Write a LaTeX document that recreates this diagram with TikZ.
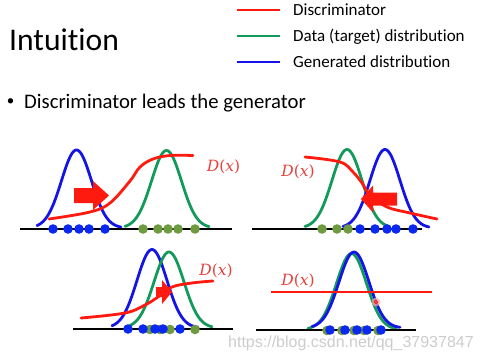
\documentclass[tikz,border=0pt]{standalone}
\usepackage{fontspec}
\setmainfont{Carlito}[Ligatures=NoCommon]
\newfontfamily\markfont{Liberation Sans}
\newfontfamily\dxfont{DejaVu Serif}
\usetikzlibrary{positioning}
\definecolor{discred}{HTML}{FF1A10}
\definecolor{datagreen}{HTML}{139A5A}
\definecolor{genblue}{HTML}{1414E6}
\definecolor{dotgreen}{HTML}{6E9A40}
\definecolor{dotblue}{HTML}{0A28F0}
\definecolor{labelred}{HTML}{E5403A}
% bell curve: colour, mean, from, to, peak y, base y
\newcommand{\bell}[6]{%
  \draw[curve, #1] plot[domain=#3:#4, samples=70, smooth]
    (\x, {#6-(#6-#5)*exp(-(((\x-#2)/15)^2)/2)});%
}
\newcommand{\dx}{{\itshape D}({\itshape x})}

\begin{document}
\begin{tikzpicture}[x=1pt, y=-1pt,
    curve/.style={line width=2.8pt, line cap=round, line join=round},
    axis/.style={line width=2.6pt, black},
    dlabel/.style={text=labelred, font=\dxfont\fontsize{15.5}{18}\selectfont, inner sep=0},
    legtext/.style={anchor=base west, inner sep=0, font=\fontsize{17}{20}\selectfont},
    blockarrow/.style={fill=discred}]
  \useasboundingbox (0,0) rectangle (482,361);

  % title and legend
  \node[anchor=base west, inner sep=0, font=\fontsize{31.6}{36}\selectfont] (title) at (9,51) {Intuition};
  \node[legtext] (legdisc) at (293,15.5) {Discriminator};
  \node[legtext] (legdata) at (293,41.5) {Data (target) distribution};
  \node[legtext] (leggen) at (293,67) {Generated distribution};
  \draw[curve, line cap=butt, discred] (237,10) -- (280,10);
  \draw[curve, line cap=butt, datagreen] (237,36) -- (280,36);
  \draw[curve, line cap=butt, genblue] (237,62) -- (280,62);
  \node[anchor=base west, inner sep=0, font=\fontsize{20.7}{24}\selectfont] (point) at (24,108) {Discriminator leads the generator};
  \node[anchor=base, inner sep=0, font=\fontsize{15}{18}\selectfont] (bul) at (10.5,106) {\textbullet};

  % panel 1
  \bell{genblue}{76.5}{37}{121}{150}{228}
  \bell{datagreen}{166.5}{125}{209}{150.5}{228}
  \draw[curve, discred] plot[smooth, tension=0.6] coordinates {(49,219) (90,212) (110,203) (130,181) (140,167) (153,159) (170,155.5) (193,155.5)};
  \fill[blockarrow, shift={(74,195.5)}] (0,-7.5) -- (19,-7.5) -- (19,-14.5) -- (35,0) -- (19,14.5) -- (19,7.5) -- (0,7.5) -- cycle;
  \node[dlabel] (dx1) at (223.5,167) {\dx};
  \draw[axis] (20,229) -- (232,229);
  \foreach \p in {143,158,168,178,195} \fill[dotgreen] (\p,229) circle (4.8);
  \foreach \p in {53,68,79,89,105} \fill[dotblue] (\p,229) circle (4.8);

  % panel 2
  \bell{datagreen}{347}{305}{389}{149.5}{228}
  \bell{genblue}{385}{343}{429}{149.5}{228}
  \draw[curve, discred] plot[smooth, tension=0.6] coordinates {(305,157) (340,162) (353,172) (362,183) (370,195) (387,207) (410,213) (437,219)};
  \fill[blockarrow, shift={(397,199)}] (0,-6.5) -- (-24,-6.5) -- (-24,-13.5) -- (-36,0) -- (-24,13.5) -- (-24,6.5) -- (0,6.5) -- cycle;
  \node[dlabel] (dx2) at (298,172) {\dx};
  \draw[axis] (252,229) -- (422,229);
  \foreach \p in {322,337,348} \fill[dotgreen] (\p,229) circle (4.8);
  \foreach \p in {360,375,387,396,413} \fill[dotblue] (\p,229) circle (4.8);

  % panel 3
  \bell{genblue}{152}{112}{198}{249.5}{328}
  \bell{datagreen}{169}{130}{212}{252}{328}
  \draw[curve, discred] plot[smooth, tension=0.6] coordinates {(81,318) (125,313) (145,305) (158,297) (172,287) (192,283) (213,281)};
  \fill[blockarrow, shift={(156,292)}] (0,-5) -- (6,-5) -- (6,-12) -- (16,0) -- (6,12) -- (6,5) -- (0,5) -- cycle;
  \node[dlabel] (dx3) at (216,271) {\dx};
  \draw[axis] (73,329) -- (233,329);
  \foreach \p in {150,160,170,195} \fill[dotgreen] (\p,329.5) circle (4.8);
  \foreach \p in {128,143,155,163,180} \fill[dotblue] (\p,329) circle (4.8);

  % panel 4
  \bell{datagreen}{351.5}{308}{396}{253.5}{329.5}
  \bell{genblue}{354}{312}{400}{252}{328}
  \draw[line width=1.6pt, discred] (271,292) -- (432,292);
  \fill[discred!35, opacity=0.7] (376,302) circle (4.5);
  \draw[discred, line width=0.8pt] (376,302) circle (1.8);
  \node[dlabel] (dx4) at (298,281) {\dx};
  \draw[axis] (256,330) -- (416,330);
  \foreach \p in {330,345,357,367,381} \fill[dotgreen] (\p-3,330.5) circle (4.8);
  \foreach \p in {330,345,357,367,381} \fill[dotblue] (\p,330) circle (4.8);

  % watermark
  \node[anchor=base west, inner sep=0, font=\markfont\fontsize{16}{18}\selectfont, text=gray, text opacity=0.4] (mark) at (228,347) {https://blog.csdn.net/qq\_37937847};
\end{tikzpicture}
\end{document}
